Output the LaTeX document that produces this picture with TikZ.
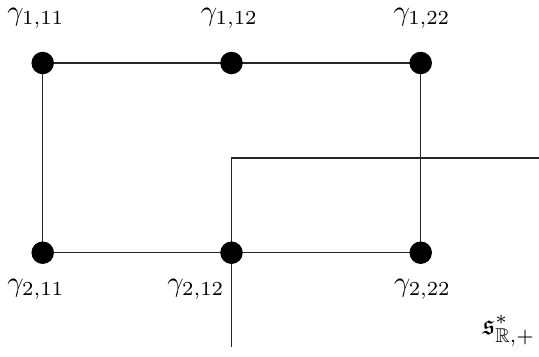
\documentclass[tikz,border=0pt]{standalone}
\usepackage{amssymb}
\usetikzlibrary{backgrounds}
\begin{document}
\begin{tikzpicture}[x=0.351pt,y=-0.351pt,
  dot/.style={circle,fill=black,inner sep=0pt,minimum size=22.5*0.351pt},
  lbl/.style={inner sep=0pt,anchor=center},
  edge/.style={line width=0.4pt,draw=black!85}]
\useasboundingbox (0,0) rectangle (539,356);
\node[dot] (a) at (42.7,63) {};
\node[dot] (b) at (231.5,63) {};
\node[dot] (c) at (420.7,63) {};
\node[dot] (d) at (42.7,252.7) {};
\node[dot] (e) at (231.5,252.7) {};
\node[dot] (f) at (420.7,252.7) {};
\coordinate (p1) at (539,158);
\coordinate (p2) at (231.5,158);
\coordinate (p3) at (231.5,347);
\begin{scope}[on background layer]
\draw[edge] (a.center) -- (b.center) -- (c.center) -- (f.center) -- (e.center) -- (d.center) -- (a.center);
\draw[edge] (p1) -- (p2) -- (p3);
\end{scope}
\node[lbl] (la) at (36,18) {$\gamma_{1,11}$};
\node[lbl] (lb) at (229.5,18) {$\gamma_{1,12}$};
\node[lbl] (lc) at (422,18) {$\gamma_{1,22}$};
\node[lbl] (ld) at (36,289) {$\gamma_{2,11}$};
\node[lbl] (le) at (196,289) {$\gamma_{2,12}$};
\node[lbl] (lf) at (422.5,289) {$\gamma_{2,22}$};
\node[lbl] (ls) at (509,331) {$\mathfrak{s}^*_{\mathbb{R},+}$};
\end{tikzpicture}
\end{document}
